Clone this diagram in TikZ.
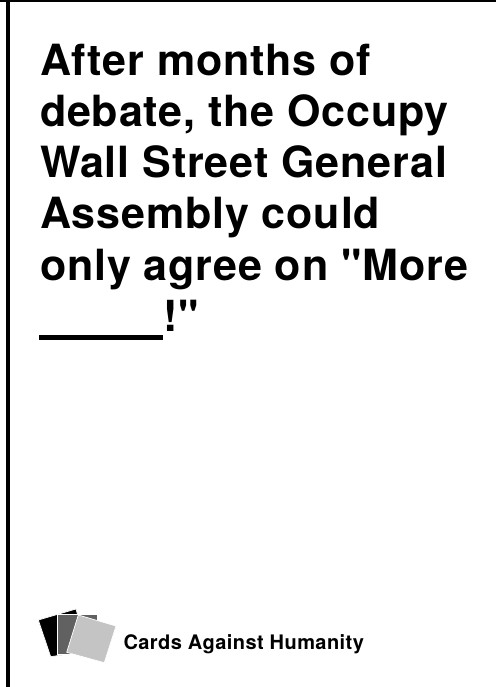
\documentclass[tikz,border=0pt]{standalone}
\usepackage{fontspec}
\setmainfont{Liberation Sans}
\newfontfamily\cardfont[LetterSpace=2.0]{TeX Gyre Heros}
\newfontfamily\brandfont[LetterSpace=2.2]{TeX Gyre Heros}
\tikzset{
  x=1pt,y=1pt,
  headline/.style={anchor=base west,inner sep=0pt,outer sep=0pt,font=\cardfont\fontsize{43}{51}\selectfont\bfseries,text=black},
  brand/.style={anchor=base west,inner sep=0pt,outer sep=0pt,font=\brandfont\fontsize{20}{24}\selectfont\bfseries,text=black},
  card/.style={draw=white,line width=0.7pt,line join=miter}
}
\definecolor{cardmid}{gray}{0.38}
\definecolor{cardback}{gray}{0.55}
\definecolor{cardlight}{gray}{0.77}
\begin{document}
\begin{tikzpicture}
\useasboundingbox (0,0) rectangle (496,687);
\fill[white] (0,0) rectangle (496,687);
\fill[black] (0,685) rectangle (496,687);
\fill[black] (6,0) rectangle (10,687);
\node[headline] (l1) at (40,611.7) {After months of};
\node[headline] (l2) at (40,560.4) {debate, the Occupy};
\node[headline] (l3) at (40,509.2) {Wall Street General};
\node[headline] (l4) at (40,458) {Assembly could};
\node[headline] (l5) at (40,406.7) {only agree on "More};
\node[headline] (l6) at (163,355.4) {!"};
\fill[black] (39,347) rectangle (163,352);
\fill[card,fill=black] (38.3,67) -- (76,78) -- (88,36) -- (50.7,30.3) -- cycle;
\fill[card,fill=cardback] (76,73) -- (97.3,73) -- (97.3,33) -- (76,33) -- cycle;
\fill[card,fill=cardmid] (57.3,73) -- (97.3,73) -- (97.3,33) -- (57.3,33) -- cycle;
\fill[card,fill=cardlight] (78.3,72) -- (116,61) -- (104.3,24.3) -- (66.7,34.7) -- cycle;
\node[brand] (b) at (123.5,37) {Cards Against Humanity};
\end{tikzpicture}
\end{document}
